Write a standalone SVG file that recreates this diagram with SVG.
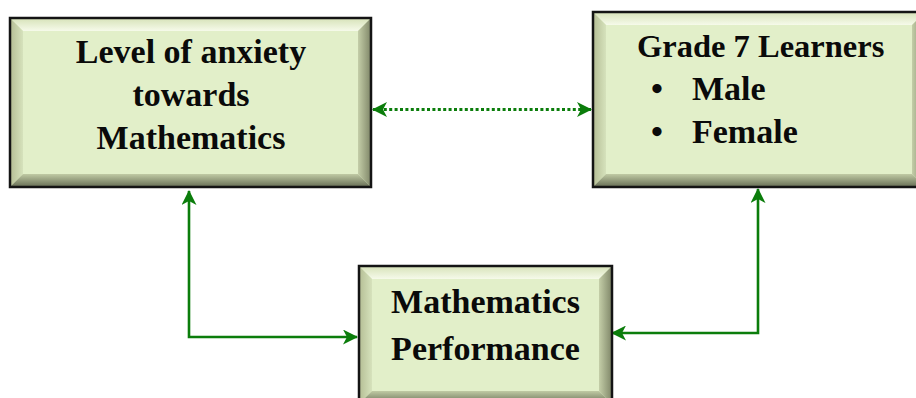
<svg xmlns="http://www.w3.org/2000/svg" width="916" height="398" viewBox="0 0 916 398">
  <style>
    .face { fill: #e2efc9; }
    .border { fill: none; stroke: #141414; stroke-width: 2.5; }
    .bt { fill: url(#gTop); }
    .bl { fill: url(#gLeft); }
    .br { fill: url(#gRight); }
    .bb { fill: url(#gBottom); }
    .lbl { font-family: "Liberation Serif", "Times New Roman", serif; font-weight: bold; font-size: 34px; fill: #0a0a0a; }
    .sm { font-size: 32.5px; }
    .mid { text-anchor: middle; }
    .conn { fill: none; stroke: #0b7d0b; stroke-width: 2.6; }
    .dot { stroke-dasharray: 3 2.4; stroke-width: 3; }
  </style>
  <defs>
    <linearGradient id="gTop" x1="0" y1="0" x2="0" y2="1">
      <stop offset="0" stop-color="#d6e2b8"/>
      <stop offset="1" stop-color="#f6faea"/>
    </linearGradient>
    <linearGradient id="gLeft" x1="0" y1="0" x2="1" y2="0">
      <stop offset="0" stop-color="#b4bd94"/>
      <stop offset="1" stop-color="#d6e2bc"/>
    </linearGradient>
    <linearGradient id="gRight" x1="0" y1="0" x2="1" y2="0">
      <stop offset="0" stop-color="#c4cea8"/>
      <stop offset="1" stop-color="#7f8668"/>
    </linearGradient>
    <linearGradient id="gBottom" x1="0" y1="0" x2="0" y2="1">
      <stop offset="0" stop-color="#c0caa4"/>
      <stop offset="1" stop-color="#666d54"/>
    </linearGradient>
    <marker id="ah" viewBox="0 0 15 15" refX="14" refY="7.5" markerWidth="15" markerHeight="15" markerUnits="userSpaceOnUse" orient="auto-start-reverse">
      <path d="M0,0 L15,7.5 L0,15 L4,7.5 Z" fill="#0b7d0b"/>
    </marker>
  </defs>

  <g id="connectors">
    <path class="conn dot" d="M373,109.5 H591" marker-start="url(#ah)" marker-end="url(#ah)"/>
    <path class="conn" d="M189,191 V337 H357" marker-start="url(#ah)" marker-end="url(#ah)"/>
    <path class="conn" d="M758,189 V333 H612" marker-start="url(#ah)" marker-end="url(#ah)"/>
  </g>

  <g id="node-anxiety">
    <rect class="face" x="10" y="18" width="361" height="169"/>
    <polygon class="bt" points="10,18 371,18 358,31 23,31"/>
    <polygon class="bl" points="10,18 23,31 23,174 10,187"/>
    <polygon class="br" points="371,18 371,187 358,174 358,31"/>
    <polygon class="bb" points="10,187 23,174 358,174 371,187"/>
    <rect class="border" x="10" y="18" width="361" height="169"/>
    <text class="lbl mid" x="191" y="63">Level of anxiety</text>
    <text class="lbl mid" x="191" y="106">towards</text>
    <text class="lbl mid" x="191" y="149">Mathematics</text>
  </g>

  <g id="node-learners">
    <rect class="face" x="593" y="12" width="332" height="175"/>
    <polygon class="bt" points="593,12 925,12 912,25 606,25"/>
    <polygon class="bl" points="593,12 606,25 606,174 593,187"/>
    <polygon class="br" points="925,12 925,187 912,174 912,25"/>
    <polygon class="bb" points="593,187 606,174 912,174 925,187"/>
    <rect class="border" x="593" y="12" width="332" height="175"/>
    <text class="lbl sm" x="637" y="57">Grade 7 Learners</text>
    <text class="lbl" x="651" y="100">•</text>
    <text class="lbl" x="692" y="100">Male</text>
    <text class="lbl" x="651" y="143">•</text>
    <text class="lbl" x="692" y="143">Female</text>
  </g>

  <g id="node-performance">
    <rect class="face" x="359" y="266" width="253" height="138"/>
    <polygon class="bt" points="359,266 612,266 599,279 372,279"/>
    <polygon class="bl" points="359,266 372,279 372,391 359,404"/>
    <polygon class="br" points="612,266 612,404 599,391 599,279"/>
    <polygon class="bb" points="359,404 372,391 599,391 612,404"/>
    <rect class="border" x="359" y="266" width="253" height="138"/>
    <text class="lbl mid" x="485.5" y="313">Mathematics</text>
    <text class="lbl mid" x="485.5" y="360">Performance</text>
  </g>
</svg>
